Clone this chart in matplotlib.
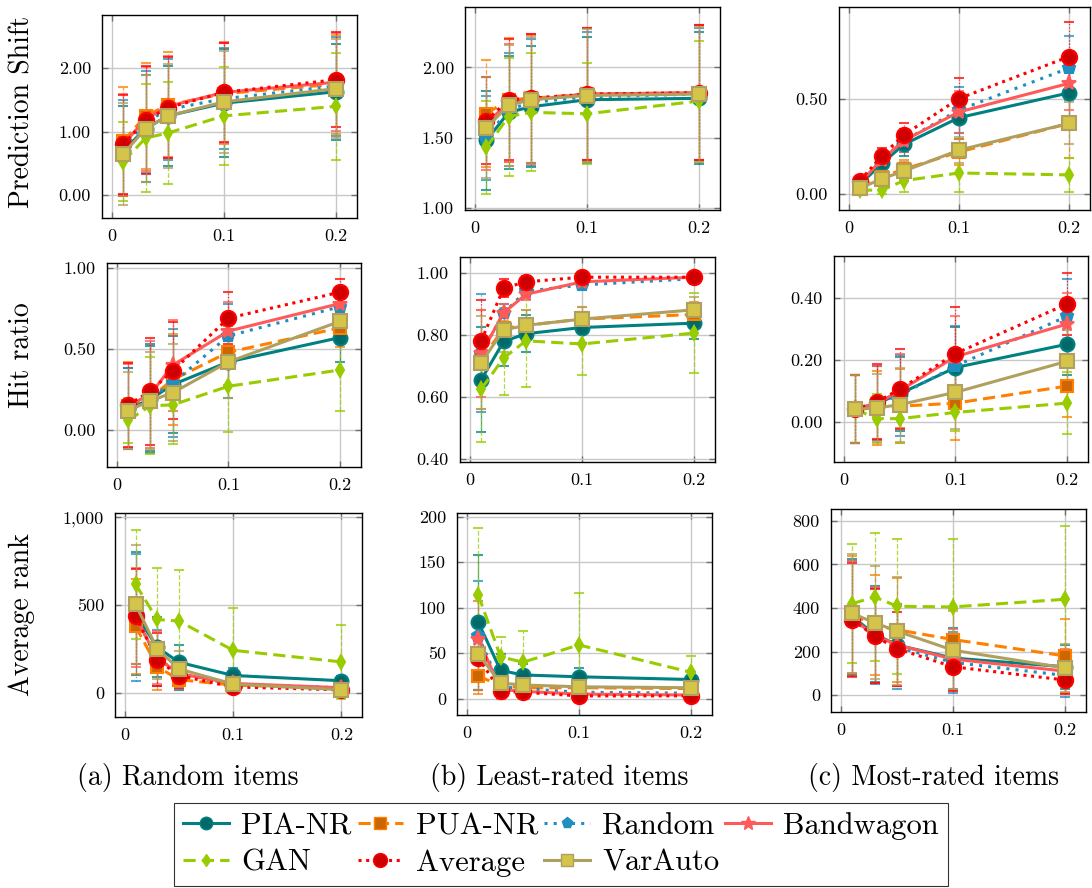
import matplotlib.pyplot as plt
from matplotlib.colors import to_rgba
from matplotlib.lines import Line2D
from matplotlib.ticker import FixedLocator, FuncFormatter

plt.rcParams['font.family'] = ['cmr10', 'DejaVu Serif']
plt.rcParams['axes.formatter.use_mathtext'] = True

x = [0.01, 0.03, 0.05, 0.1, 0.2]
names = ['PIA-NR', 'PUA-NR', 'Random', 'Bandwagon', 'GAN', 'Average', 'VarAuto']

# means, one row per attack (same order as names)
ps_random = [[0.70, 1.05, 1.25, 1.45, 1.63],
             [0.85, 1.25, 1.42, 1.60, 1.75],
             [0.75, 1.15, 1.35, 1.52, 1.72],
             [0.80, 1.20, 1.40, 1.62, 1.78],
             [0.53, 0.90, 0.98, 1.25, 1.40],
             [0.80, 1.18, 1.38, 1.62, 1.82],
             [0.65, 1.05, 1.25, 1.47, 1.68]]
ps_random_sd = [[0.71, 0.84, 0.79, 0.85, 0.76],
                [0.86, 0.84, 0.83, 0.80, 0.78],
                [0.75, 0.80, 0.80, 0.80, 0.78],
                [0.80, 0.82, 0.80, 0.80, 0.77],
                [0.62, 0.85, 0.80, 0.77, 0.84],
                [0.78, 0.85, 0.80, 0.78, 0.75],
                [0.80, 0.84, 0.82, 0.80, 0.78]]

ps_least = [[1.48, 1.68, 1.72, 1.77, 1.78],
            [1.67, 1.77, 1.78, 1.81, 1.82],
            [1.50, 1.70, 1.75, 1.79, 1.81],
            [1.60, 1.75, 1.77, 1.81, 1.82],
            [1.43, 1.65, 1.68, 1.67, 1.76],
            [1.62, 1.77, 1.78, 1.81, 1.82],
            [1.57, 1.73, 1.77, 1.80, 1.81]]
ps_least_sd = [[0.35, 0.40, 0.43, 0.45, 0.47],
               [0.38, 0.44, 0.46, 0.47, 0.48],
               [0.30, 0.40, 0.45, 0.46, 0.47],
               [0.33, 0.42, 0.46, 0.47, 0.48],
               [0.33, 0.42, 0.42, 0.36, 0.43],
               [0.31, 0.43, 0.46, 0.47, 0.48],
               [0.36, 0.43, 0.45, 0.47, 0.48]]

ps_most = [[0.05, 0.16, 0.26, 0.40, 0.53],
           [0.03, 0.09, 0.13, 0.22, 0.37],
           [0.06, 0.18, 0.28, 0.44, 0.66],
           [0.06, 0.18, 0.28, 0.43, 0.58],
           [0.02, 0.02, 0.07, 0.11, 0.10],
           [0.07, 0.20, 0.31, 0.50, 0.72],
           [0.03, 0.08, 0.12, 0.23, 0.37]]
ps_most_sd = [[0.02, 0.04, 0.06, 0.11, 0.15],
              [0.02, 0.03, 0.05, 0.07, 0.18],
              [0.02, 0.04, 0.06, 0.12, 0.17],
              [0.02, 0.04, 0.06, 0.11, 0.14],
              [0.01, 0.02, 0.06, 0.10, 0.09],
              [0.02, 0.04, 0.06, 0.11, 0.18],
              [0.02, 0.03, 0.05, 0.07, 0.11]]

hr_random = [[0.13, 0.19, 0.28, 0.42, 0.57],
             [0.15, 0.20, 0.31, 0.48, 0.63],
             [0.13, 0.20, 0.29, 0.58, 0.76],
             [0.15, 0.22, 0.40, 0.61, 0.78],
             [0.06, 0.15, 0.155, 0.27, 0.37],
             [0.155, 0.24, 0.365, 0.69, 0.85],
             [0.12, 0.18, 0.23, 0.42, 0.67]]
hr_random_sd = [[0.25, 0.33, 0.30, 0.22, 0.15],
                [0.27, 0.33, 0.28, 0.20, 0.12],
                [0.25, 0.33, 0.33, 0.20, 0.10],
                [0.26, 0.33, 0.28, 0.18, 0.09],
                [0.14, 0.30, 0.24, 0.28, 0.25],
                [0.26, 0.33, 0.30, 0.16, 0.08],
                [0.24, 0.30, 0.30, 0.22, 0.14]]

hr_least = [[0.655, 0.778, 0.803, 0.823, 0.837],
            [0.72, 0.82, 0.83, 0.85, 0.865],
            [0.74, 0.87, 0.94, 0.96, 0.98],
            [0.74, 0.87, 0.93, 0.97, 0.985],
            [0.625, 0.725, 0.78, 0.77, 0.805],
            [0.78, 0.95, 0.97, 0.985, 0.985],
            [0.71, 0.815, 0.83, 0.85, 0.88]]
hr_least_sd = [[0.17, 0.08, 0.06, 0.05, 0.05],
               [0.16, 0.06, 0.05, 0.04, 0.04],
               [0.19, 0.03, 0.02, 0.01, 0.01],
               [0.14, 0.03, 0.02, 0.01, 0.01],
               [0.17, 0.12, 0.15, 0.10, 0.13],
               [0.13, 0.03, 0.02, 0.01, 0.01],
               [0.15, 0.07, 0.05, 0.04, 0.04]]

hr_most = [[0.04, 0.06, 0.09, 0.175, 0.25],
           [0.04, 0.045, 0.05, 0.06, 0.115],
           [0.04, 0.06, 0.085, 0.18, 0.34],
           [0.04, 0.06, 0.10, 0.21, 0.315],
           [0.04, 0.01, 0.01, 0.03, 0.06],
           [0.04, 0.065, 0.105, 0.22, 0.38],
           [0.04, 0.045, 0.055, 0.095, 0.195]]
hr_most_sd = [[0.11, 0.12, 0.12, 0.13, 0.10],
              [0.11, 0.12, 0.12, 0.12, 0.10],
              [0.11, 0.12, 0.13, 0.13, 0.12],
              [0.11, 0.12, 0.12, 0.13, 0.10],
              [0.11, 0.08, 0.08, 0.06, 0.10],
              [0.11, 0.12, 0.13, 0.15, 0.10],
              [0.11, 0.11, 0.12, 0.12, 0.10]]

ar_random = [[450, 260, 175, 100, 70],
             [380, 150, 76, 45, 25],
             [430, 200, 110, 50, 30],
             [430, 200, 110, 55, 30],
             [618, 418, 409, 243, 177],
             [437, 190, 99, 35, 18],
             [504, 251, 137, 51, 19]]
ar_random_sd = [[350, 170, 100, 45, 25],
                [270, 130, 60, 30, 20],
                [360, 160, 90, 40, 20],
                [280, 150, 80, 35, 20],
                [310, 295, 290, 240, 210],
                [270, 150, 70, 25, 15],
                [340, 170, 100, 40, 20]]

ar_least = [[84, 31, 26, 24, 21],
            [25, 14, 12, 12, 11],
            [69, 13, 11, 7, 6],
            [66, 10, 8, 5, 4],
            [114, 46, 40, 59, 29],
            [45, 8, 7, 3, 3],
            [49, 17, 15, 13, 12]]
ar_least_sd = [[74, 18, 12, 10, 8],
               [20, 10, 8, 8, 7],
               [60, 10, 8, 5, 4],
               [41, 10, 7, 4, 3],
               [73, 22, 34, 57, 18],
               [35, 6, 5, 3, 2],
               [40, 10, 8, 6, 6]]

ar_most = [[360, 280, 230, 170, 130],
           [370, 320, 300, 255, 180],
           [350, 270, 220, 150, 90],
           [350, 275, 230, 165, 110],
           [420, 451, 408, 405, 440],
           [347, 271, 213, 130, 69],
           [375, 332, 294, 206, 125]]
ar_most_sd = [[265, 220, 190, 140, 100],
              [270, 230, 240, 140, 170],
              [265, 220, 190, 140, 100],
              [265, 220, 190, 140, 100],
              [275, 295, 310, 310, 335],
              [260, 215, 170, 110, 65],
              [275, 260, 250, 180, 110]]

row_labels = ['Prediction Shift', 'Hit ratio', 'Average rank']
captions = ['(a) Random items', '(b) Least-rated items', '(c) Most-rated items']

# styles
line_colors = ['#008080', '#ff8000', '#1f8fbf', '#ff5a5a', '#99cc00', '#ff0000', '#b0a060']
face_colors = ['#006a6a', '#cc6600', '#1f8fbf', '#ff5a5a', '#99cc00', '#d00000', '#d4c44a']
markers = ['o', 's', 'p', '*', 'd', 'o', 's']
msizes = [10, 9, 9, 11, 7, 11, 10]
lstyles = ['-', (0, (4, 2)), (0, (1, 2)), '-', (0, (4, 2)), (0, (1, 1.5)), '-']
estyles = ['-', '--', ':', '-', '--', ':', '-']

W, H = 1092, 888
fig = plt.figure(figsize=(W / 100, H / 100), dpi=100)


def px_axes(l, t, r, b):
    return fig.add_axes([l / W, 1 - b / H, (r - l) / W, (b - t) / H])


panels = [
    # (box px, means, sd, ylim, yticks, fmt)
    ((102, 15, 357, 218), ps_random, ps_random_sd, (-0.36, 2.84), [0, 1, 2], '{:.2f}'),
    ((465, 7, 720, 210), ps_least, ps_least_sd, (0.985, 2.43), [1, 1.5, 2], '{:.2f}'),
    ((839, 7, 1090, 210), ps_most, ps_most_sd, (-0.084, 0.98), [0, 0.5], '{:.2f}'),
    ((107, 263, 361, 467), hr_random, hr_random_sd, (-0.228, 1.03), [0, 0.5, 1], '{:.2f}'),
    ((460, 257, 715, 462), hr_least, hr_least_sd, (0.39, 1.05), [0.4, 0.6, 0.8, 1.0], '{:.2f}'),
    ((834, 256, 1088, 462), hr_most, hr_most_sd, (-0.13, 0.535), [0, 0.2, 0.4], '{:.2f}'),
    ((115, 513, 362, 717), ar_random, ar_random_sd, (-136, 1023), [0, 500, 1000], '{:,.0f}'),
    ((457, 513, 712, 715), ar_least, ar_least_sd, (-18, 204), [0, 50, 100, 150, 200], '{:,.0f}'),
    ((831, 509, 1086, 712), ar_most, ar_most_sd, (-78, 855), [0, 200, 400, 600, 800], '{:,.0f}'),
]

for box, means, sds, ylim, yticks, fmt in panels:
    ax = px_axes(*box)
    for i in range(len(names)):
        eb = ax.errorbar(x, means[i], yerr=sds[i], color=line_colors[i],
                         ls=lstyles[i], lw=2.2, marker=markers[i],
                         ms=msizes[i], mfc=face_colors[i], mec=line_colors[i],
                         mew=1.5, ecolor=to_rgba(line_colors[i], 0.75),
                         elinewidth=0.9, capsize=3.5, capthick=0.9)
        eb[2][0].set_linestyle(estyles[i])
    ax.set_xlim(-0.009, 0.219)
    ax.set_ylim(*ylim)
    ax.xaxis.set_major_locator(FixedLocator([0, 0.1, 0.2]))
    ax.xaxis.set_major_formatter(FuncFormatter(lambda v, p: '0' if v == 0 else '{:.1f}'.format(v)))
    ax.yaxis.set_major_locator(FixedLocator(yticks))
    ax.yaxis.set_major_formatter(FuncFormatter(lambda v, p, f=fmt: f.format(v)))
    ax.grid(True, color='#c8c8c8', lw=1.0)
    ax.set_axisbelow(True)
    ax.tick_params(direction='in', top=True, right=True, length=4, width=1,
                   color='#707070', labelsize=13, pad=8)
    for s in ax.spines.values():
        s.set_linewidth(1.0)

for label, yc in zip(row_labels, [112, 355, 615]):
    fig.text(22 / W, 1 - yc / H, label, rotation=90, ha='center', va='center', fontsize=20)

for cap, xc in zip(captions, [188, 559, 934]):
    fig.text(xc / W, 1 - 777 / H, cap, ha='center', va='center', fontsize=20)

handles = []
for i in range(len(names)):
    handles.append(Line2D([], [], color=line_colors[i], ls=lstyles[i], lw=2.2,
                          marker=markers[i], ms=msizes[i] - 1, mfc=face_colors[i],
                          mec=line_colors[i]))
order = [0, 4, 1, 5, 2, 6, 3]
leg = fig.legend([handles[k] for k in order], [names[k] for k in order], ncol=4,
                 loc='upper center', bbox_to_anchor=(561 / W, 1 - 803 / H),
                 borderaxespad=0, fontsize=22, frameon=True, fancybox=False,
                 edgecolor='black', handlelength=1.5, handletextpad=0.4,
                 columnspacing=0.2, labelspacing=0.3, borderpad=0.3)
leg.get_frame().set_linewidth(0.8)

fig.savefig('out.png', dpi=100)
